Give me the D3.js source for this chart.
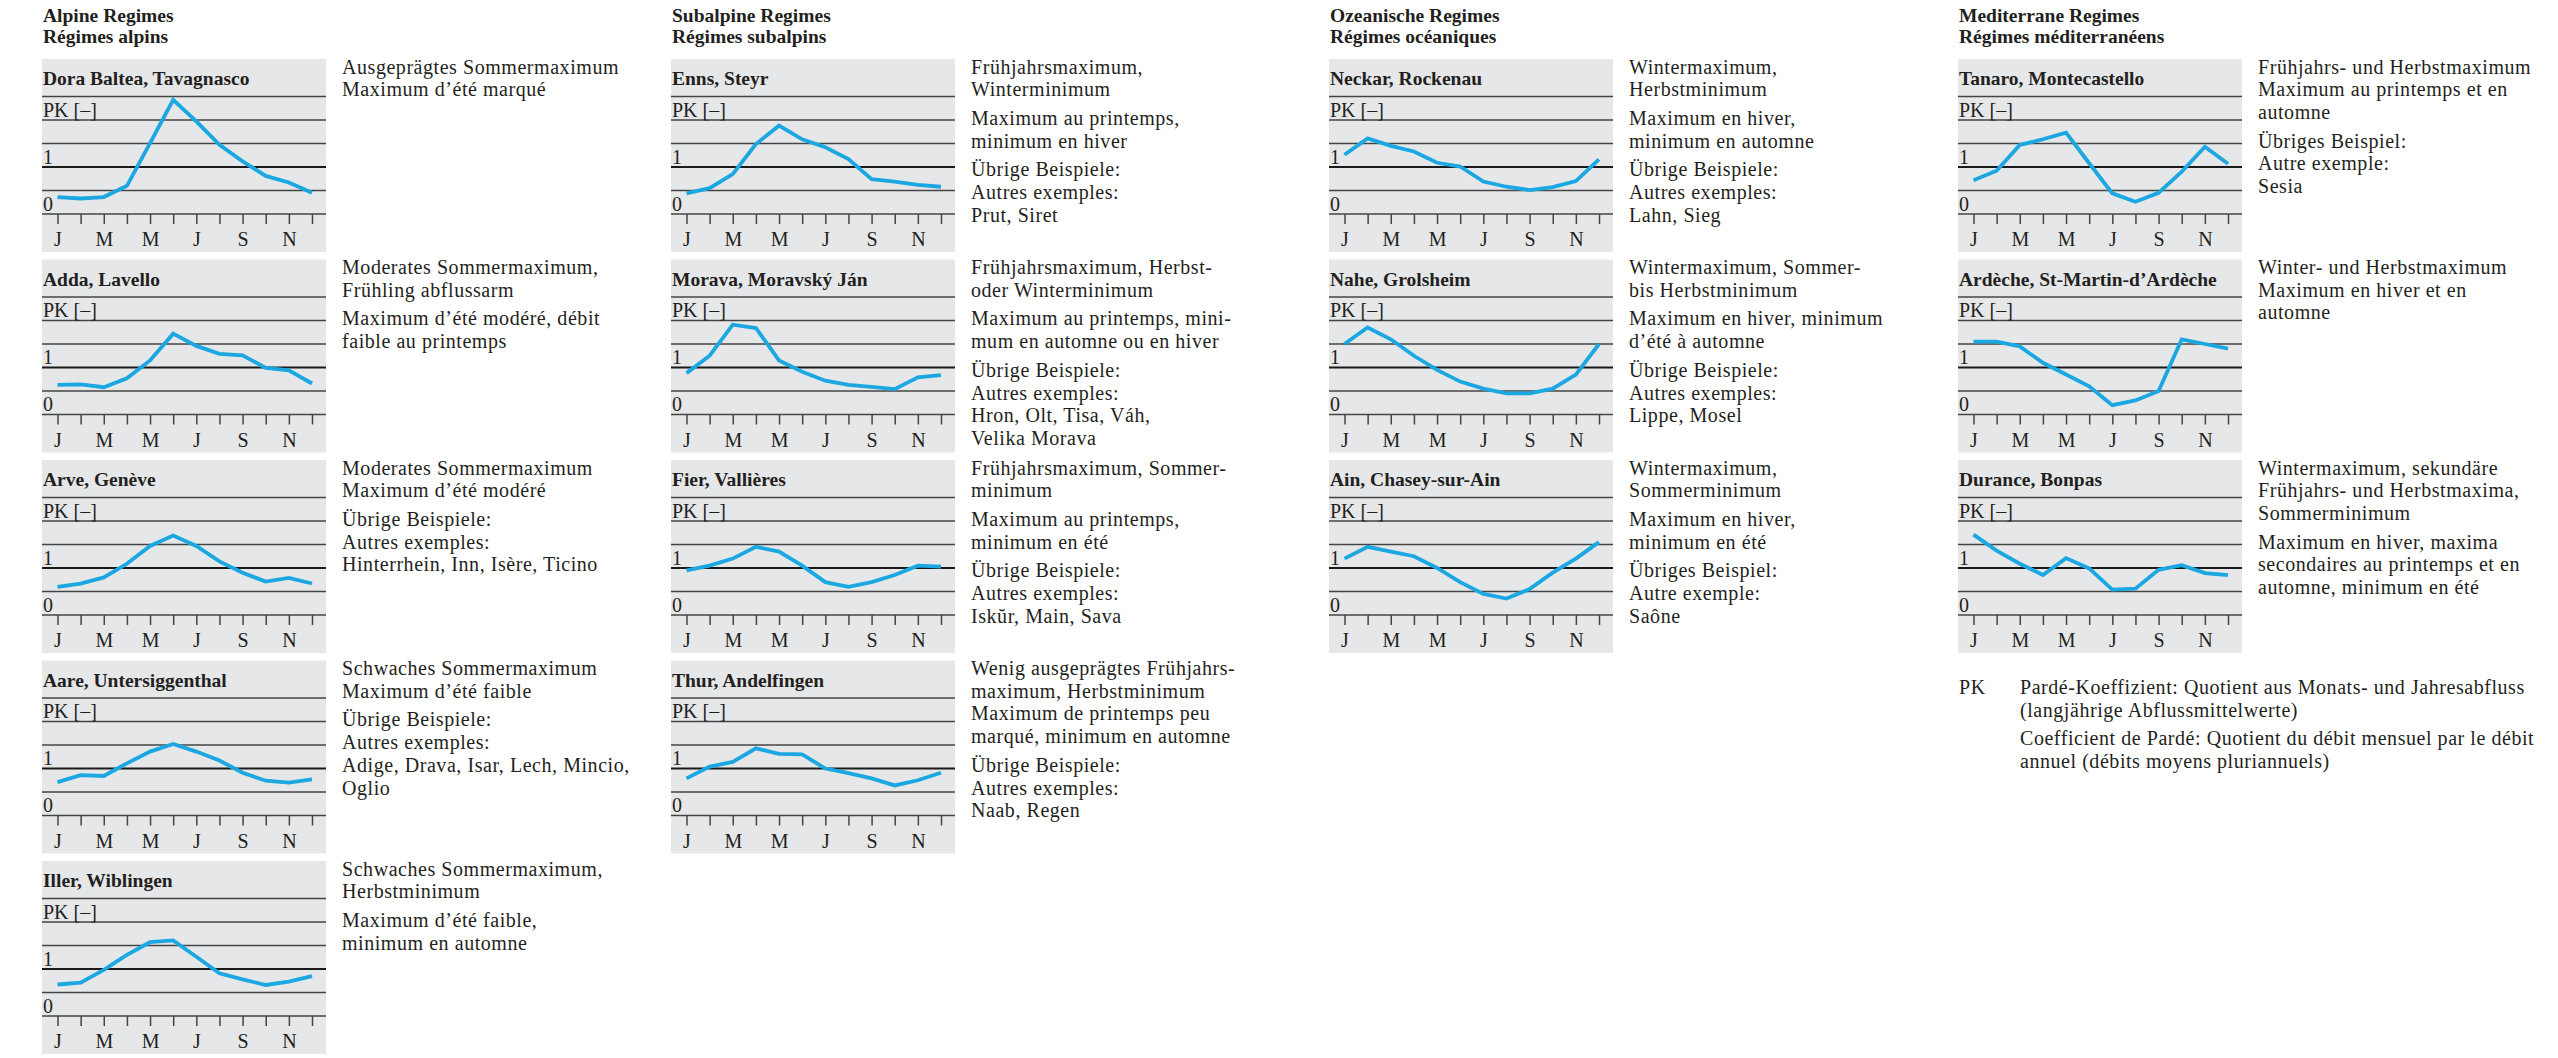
<!DOCTYPE html>
<html>
<head>
<meta charset="utf-8">
<script src="https://cdn.jsdelivr.net/npm/d3@7"></script>
<style>
  body { margin: 0; background: #fff; }
  svg text { font-family: "Liberation Serif", "Times New Roman", serif; fill: #231f20; }
  .hd, .ttl { font-weight: bold; font-size: 19.5px; }
  .note { font-size: 20px; letter-spacing: 0.55px; }
  .ax { font-size: 20px; }
</style>
</head>
<body>
<svg id="chart" width="2558" height="1058"></svg>
<script>
// Pardé coefficients (PK), Jan..Dec
const monthTicks = ['J', '', 'M', '', 'M', '', 'J', '', 'S', '', 'N', ''];
const pkTicks = [0, 0.5, 1, 1.5, 2, 2.5];

const doraBaltea = [0.36, 0.33, 0.36, 0.60, 1.51, 2.43, 1.97, 1.47, 1.12, 0.81, 0.67, 0.45];
const adda = [0.63, 0.64, 0.58, 0.77, 1.15, 1.72, 1.46, 1.29, 1.26, 0.99, 0.94, 0.66];
const arve = [0.60, 0.67, 0.80, 1.09, 1.47, 1.69, 1.47, 1.14, 0.90, 0.71, 0.79, 0.67];
const aare = [0.71, 0.86, 0.84, 1.11, 1.36, 1.52, 1.36, 1.17, 0.91, 0.74, 0.70, 0.77];
const iller = [0.67, 0.71, 0.98, 1.30, 1.57, 1.61, 1.26, 0.91, 0.78, 0.66, 0.73, 0.85];

const enns = [0.44, 0.55, 0.85, 1.49, 1.88, 1.59, 1.42, 1.17, 0.74, 0.69, 0.62, 0.58];
const morava = [0.88, 1.25, 1.91, 1.84, 1.15, 0.91, 0.72, 0.63, 0.59, 0.54, 0.79, 0.84];
const fier = [0.95, 1.05, 1.20, 1.45, 1.35, 1.05, 0.70, 0.60, 0.70, 0.85, 1.05, 1.03];
const thur = [0.79, 1.04, 1.14, 1.43, 1.31, 1.30, 1.00, 0.90, 0.79, 0.64, 0.75, 0.91];

const neckar = [1.26, 1.61, 1.45, 1.33, 1.09, 1.01, 0.69, 0.58, 0.51, 0.57, 0.70, 1.16];
const nahe = [1.50, 1.85, 1.60, 1.25, 0.95, 0.70, 0.55, 0.45, 0.45, 0.55, 0.85, 1.50];
const ain = [1.20, 1.45, 1.35, 1.25, 1.00, 0.70, 0.45, 0.35, 0.55, 0.90, 1.20, 1.55];

const tanaro = [0.72, 0.92, 1.47, 1.59, 1.73, 1.08, 0.44, 0.26, 0.45, 0.90, 1.43, 1.07];
const ardeche = [1.55, 1.55, 1.45, 1.10, 0.85, 0.60, 0.20, 0.30, 0.50, 1.60, 1.50, 1.40];
const durance = [1.71, 1.37, 1.09, 0.85, 1.21, 0.99, 0.54, 0.56, 0.96, 1.06, 0.89, 0.85];

const columnTitles = [
  ['Alpine Regimes', 'Régimes alpins'],
  ['Subalpine Regimes', 'Régimes subalpins'],
  ['Ozeanische Regimes', 'Régimes océaniques'],
  ['Mediterrane Regimes', 'Régimes méditerranéens']
];

const alpineStations = ['Dora Baltea, Tavagnasco', 'Adda, Lavello', 'Arve, Genève', 'Aare, Untersiggenthal', 'Iller, Wiblingen'];
const subalpineStations = ['Enns, Steyr', 'Morava, Moravský Ján', 'Fier, Vallières', 'Thur, Andelfingen'];
const oceanicStations = ['Neckar, Rockenau', 'Nahe, Grolsheim', 'Ain, Chasey-sur-Ain'];
const medStations = ['Tanaro, Montecastello', 'Ardèche, St-Martin-d’Ardèche', 'Durance, Bonpas'];

const alpineSeries = [doraBaltea, adda, arve, aare, iller];
const subalpineSeries = [enns, morava, fier, thur];
const oceanicSeries = [neckar, nahe, ain];
const medSeries = [tanaro, ardeche, durance];

const alpineNotes = [
  [['Ausgeprägtes Sommermaximum', 'Maximum d’été marqué']],
  [['Moderates Sommermaximum,', 'Frühling abflussarm'], ['Maximum d’été modéré, débit', 'faible au printemps']],
  [['Moderates Sommermaximum', 'Maximum d’été modéré'], ['Übrige Beispiele:', 'Autres exemples:', 'Hinterrhein, Inn, Isère, Ticino']],
  [['Schwaches Sommermaximum', 'Maximum d’été faible'], ['Übrige Beispiele:', 'Autres exemples:', 'Adige, Drava, Isar, Lech, Mincio,', 'Oglio']],
  [['Schwaches Sommermaximum,', 'Herbstminimum'], ['Maximum d’été faible,', 'minimum en automne']]
];
const subalpineNotes = [
  [['Frühjahrsmaximum,', 'Winterminimum'], ['Maximum au printemps,', 'minimum en hiver'], ['Übrige Beispiele:', 'Autres exemples:', 'Prut, Siret']],
  [['Frühjahrsmaximum, Herbst-', 'oder Winterminimum'], ['Maximum au printemps, mini-', 'mum en automne ou en hiver'], ['Übrige Beispiele:', 'Autres exemples:', 'Hron, Olt, Tisa, Váh,', 'Velika Morava']],
  [['Frühjahrsmaximum, Sommer-', 'minimum'], ['Maximum au printemps,', 'minimum en été'], ['Übrige Beispiele:', 'Autres exemples:', 'Iskŭr, Main, Sava']],
  [['Wenig ausgeprägtes Frühjahrs-', 'maximum, Herbstminimum', 'Maximum de printemps peu', 'marqué, minimum en automne'], ['Übrige Beispiele:', 'Autres exemples:', 'Naab, Regen']]
];
const oceanicNotes = [
  [['Wintermaximum,', 'Herbstminimum'], ['Maximum en hiver,', 'minimum en automne'], ['Übrige Beispiele:', 'Autres exemples:', 'Lahn, Sieg']],
  [['Wintermaximum, Sommer-', 'bis Herbstminimum'], ['Maximum en hiver, minimum', 'd’été à automne'], ['Übrige Beispiele:', 'Autres exemples:', 'Lippe, Mosel']],
  [['Wintermaximum,', 'Sommerminimum'], ['Maximum en hiver,', 'minimum en été'], ['Übriges Beispiel:', 'Autre exemple:', 'Saône']]
];
const medNotes = [
  [['Frühjahrs- und Herbstmaximum', 'Maximum au printemps et en', 'automne'], ['Übriges Beispiel:', 'Autre exemple:', 'Sesia']],
  [['Winter- und Herbstmaximum', 'Maximum en hiver et en', 'automne']],
  [['Wintermaximum, sekundäre', 'Frühjahrs- und Herbstmaxima,', 'Sommerminimum'], ['Maximum en hiver, maxima', 'secondaires au printemps et en', 'automne, minimum en été']]
];

const footKey = 'PK';
const footNotes = [
  ['Pardé-Koeffizient: Quotient aus Monats- und Jahresabfluss', '(langjährige Abflussmittelwerte)'],
  ['Coefficient de Pardé: Quotient du débit mensuel par le débit', 'annuel (débits moyens pluriannuels)']
];

// ---- layout ----
const colX = [42, 671, 1329, 1958];
const rowTop0 = 59, rowStep = 200.5;
const boxW = 284, boxH = 193;
const noteDx = 300, lineH = 22.7, paraGap = 6;

const svg = d3.select('#chart');

const x = d3.scalePoint().domain(d3.range(12)).range([15.5, 270]);
const y = d3.scaleLinear().domain([0, 2.5]).range([155, 37.5]);

const line = d3.line()
  .x((d, i) => x(i))
  .y(d => y(d))
  .curve(d3.curveLinear);

function drawNotes(g, paras, x0, y0) {
  let yy = y0;
  paras.forEach((p, pi) => {
    if (pi > 0) yy += paraGap;
    p.forEach(l => {
      g.append('text').attr('class', 'note').attr('x', x0).attr('y', yy).text(l);
      yy += lineH;
    });
  });
  return yy;
}

function drawPanel(cx, top, name, values, notes) {
  const g = svg.append('g').attr('transform', `translate(${cx},${top})`);

  g.append('rect').attr('width', boxW).attr('height', boxH).attr('fill', '#e6e7e8');

  g.append('text').attr('class', 'ttl').attr('x', 1).attr('y', 26).text(name);

  // horizontal grid lines, the PK = 1 line drawn heavier
  g.selectAll('line.grid')
    .data(pkTicks)
    .join('line')
    .attr('class', 'grid')
    .attr('x1', 0).attr('x2', boxW)
    .attr('y1', d => y(d)).attr('y2', d => y(d))
    .attr('stroke', d => d === 1 ? '#1a1a1a' : '#444')
    .attr('stroke-width', d => d === 1 ? 2.2 : 1.5);

  g.append('text').attr('class', 'ax').attr('x', 1).attr('y', y(2) - 3.5).text('PK [–]');
  g.append('text').attr('class', 'ax').attr('x', 1).attr('y', y(1) - 3.5).text('1');
  g.append('text').attr('class', 'ax').attr('x', 1).attr('y', y(0) - 3.5).text('0');

  // month axis
  const axis = d3.axisBottom(x)
    .tickSize(10)
    .tickPadding(8)
    .tickFormat(i => monthTicks[i]);
  const ag = g.append('g').attr('transform', `translate(0,${y(0)})`).call(axis);
  ag.select('.domain').remove();
  ag.selectAll('.tick line').attr('stroke', '#444').attr('stroke-width', 1.5);
  ag.selectAll('.tick text')
    .attr('class', 'ax')
    .attr('font-family', null).attr('font-size', null)
    .attr('fill', '#231f20')
    .attr('dy', '0.71em');

  g.append('path')
    .datum(values)
    .attr('d', line)
    .attr('fill', 'none')
    .attr('stroke', '#1ba7e1')
    .attr('stroke-width', 3.8)
    .attr('stroke-linejoin', 'miter');

  drawNotes(g, notes, noteDx, 14.5);
}

const columns = [
  [alpineStations, alpineSeries, alpineNotes],
  [subalpineStations, subalpineSeries, subalpineNotes],
  [oceanicStations, oceanicSeries, oceanicNotes],
  [medStations, medSeries, medNotes]
];

columns.forEach(([names, series, notes], ci) => {
  const cx = colX[ci];
  svg.append('text').attr('class', 'hd').attr('x', cx + 1).attr('y', 21.5).text(columnTitles[ci][0]);
  svg.append('text').attr('class', 'hd').attr('x', cx + 1).attr('y', 43).text(columnTitles[ci][1]);
  names.forEach((n, ri) => {
    drawPanel(cx, rowTop0 + ri * rowStep, n, series[ri], notes[ri]);
  });
});

// footnote below the Mediterranean column
const fg = svg.append('g').attr('transform', `translate(${colX[3]},694)`);
fg.append('text').attr('class', 'note').attr('x', 1).attr('y', 0).text(footKey);
drawNotes(fg, footNotes, 62, 0);
</script>
</body>
</html>
